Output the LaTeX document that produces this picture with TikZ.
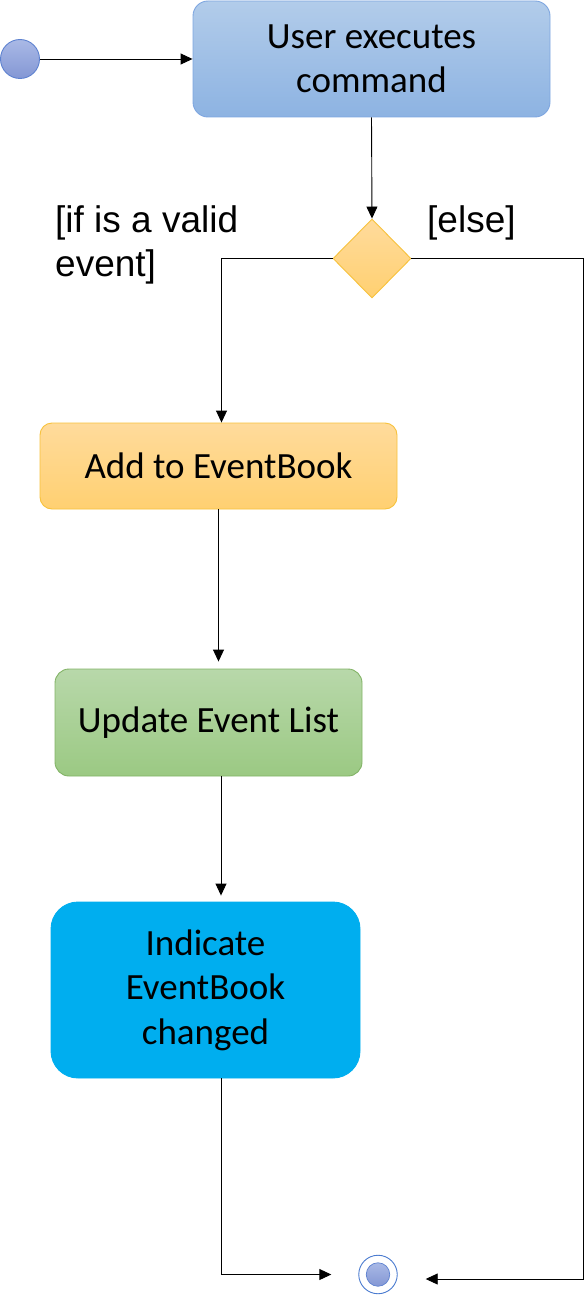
\documentclass[tikz,border=0pt]{standalone}
\usepackage{fontspec}
\setmainfont{Carlito}
\newfontfamily\arialfont{Liberation Sans}
\usetikzlibrary{shapes.geometric,arrows.meta,calc}
\definecolor{startfillA}{HTML}{A9B9E6}
\definecolor{startfillB}{HTML}{8497D4}
\definecolor{startline}{HTML}{5E82D0}
\definecolor{boxAtop}{HTML}{B2CCEA}
\definecolor{boxAbot}{HTML}{8DB3E2}
\definecolor{boxAline}{HTML}{7EA6E0}
\definecolor{orTop}{HTML}{FFDB9C}
\definecolor{orBot}{HTML}{FFD071}
\definecolor{orLine}{HTML}{F7C23C}
\definecolor{grTop}{HTML}{B8D8AA}
\definecolor{grBot}{HTML}{9BC983}
\definecolor{grLine}{HTML}{82B366}
\definecolor{cyanFill}{HTML}{00AEEF}
\definecolor{endLine}{HTML}{4A7BD0}
\tikzset{
  txt/.style={font=\fontsize{37}{44.4}\selectfont, align=center, text=black},
  lbl/.style={font=\arialfont\fontsize{37}{44.4}\selectfont, align=left, text=black, inner sep=0pt},
  conn/.style={draw=black, line width=0.9pt, -{Triangle[length=12pt,width=11pt]}},
  stepbox/.style={rectangle, inner sep=0pt, line width=0.9pt, txt},
}
\begin{document}
\begin{tikzpicture}[x=1pt,y=-1pt]
\useasboundingbox (0,0) rectangle (584,1295);
% start
\node[circle, minimum size=39pt, inner sep=0pt, draw=startline, line width=0.9pt,
      top color=startfillA, bottom color=startfillB] (start) at (20,59) {};
% box 1
\node[stepbox, minimum width=357pt, minimum height=116pt, rounded corners=15pt,
      draw=boxAline, top color=boxAtop, bottom color=boxAbot] (b1) at (371.5,59) {User executes\\command};
% decision
\node[diamond, minimum width=78pt, minimum height=79pt, inner sep=0pt, draw=orLine, line width=0.9pt,
      top color=orTop, bottom color=orBot] (dec) at (372,258.5) {};
% box 2
\node[stepbox, minimum width=357pt, minimum height=86pt, rounded corners=12pt,
      draw=orLine, top color=orTop, bottom color=orBot] (b2) at (218.5,466) {Add to EventBook};
% box 3
\node[stepbox, minimum width=307pt, minimum height=107pt, rounded corners=14pt,
      draw=grLine, top color=grTop, bottom color=grBot] (b3) at (208.5,722.5) {Update Event List};
% box 4
\node[stepbox, minimum width=309pt, minimum height=176pt, rounded corners=27pt,
      fill=cyanFill, draw=cyanFill] (b4) at (205.5,990) {Indicate\\EventBook\\changed};
% end
\node[circle, minimum size=38.5pt, inner sep=0pt, draw=endLine, line width=0.9pt, fill=white] (end) at (378,1274.5) {};
\node[circle, minimum size=23.5pt, inner sep=0pt, draw=startline, line width=0.7pt,
      top color=startfillA, bottom color=startfillB] (endin) at (end.center) {};
% labels
\node[lbl, anchor=base west] (lvalid) at (55,276.7) {[if is a valid\\event]};
\node[lbl, anchor=base west] (lelse) at (427,232) {[else]};
% coordinates
\coordinate (rc) at (583,1279);
% connectors
\draw[conn] (start) -- (b1.west);
\draw[conn] (b1.south) -- (dec.north);
\draw[conn] (dec.west) -| ([xshift=3pt]b2.north);
\draw[conn, shorten >=7pt] (b2.south) -- (b2.south |- b3.north);
\draw[conn, shorten >=6pt] ([xshift=12.5pt]b3.south) -- ([xshift=12.5pt]b3.south |- b4.north);
\draw[conn, shorten >=27pt] ([xshift=15.5pt]b4.south) |- (end.west);
\draw[conn, shorten >=28pt] (dec.east) -| (rc) -- (end.east |- rc);
\end{tikzpicture}
\end{document}
